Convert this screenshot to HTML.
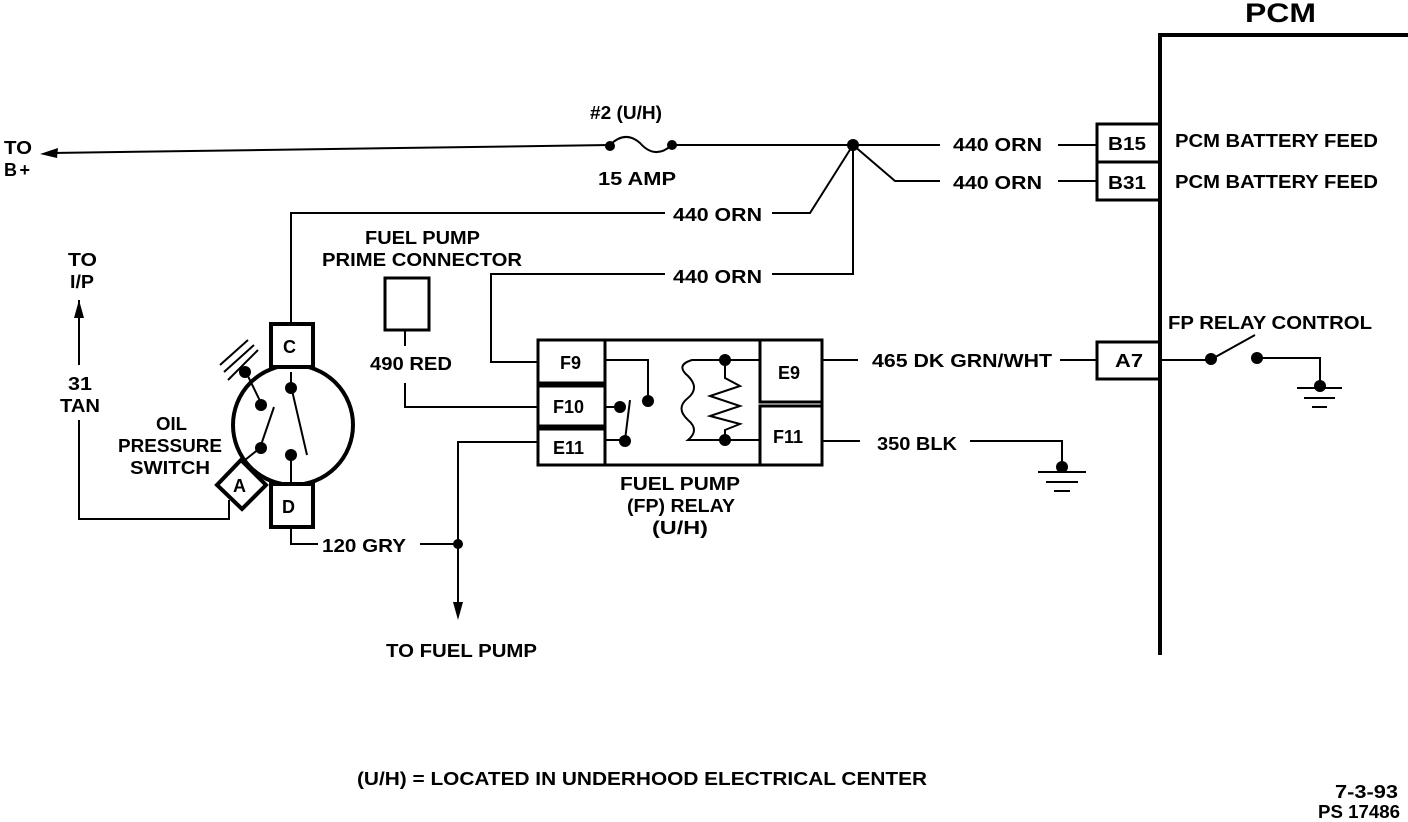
<!DOCTYPE html>
<html><head><meta charset="utf-8"><style>
html,body{margin:0;padding:0;background:#fff;}
svg{display:block}
text{font-family:"Liberation Sans",sans-serif;font-weight:bold;font-size:18px;fill:#000}
</style></head><body>
<svg width="1408" height="822" viewBox="0 0 1408 822" xmlns="http://www.w3.org/2000/svg">
<g stroke="#000" fill="none" stroke-width="2">
<path d="M1160 655 V35 H1408" stroke-width="4"/>
<path d="M52 153 L610 145"/>
<path d="M610 145 Q625 130 640 143 Q655 160 672 145"/>
<path d="M672 145 H940"/>
<path d="M1058 145 H1097"/>
<path d="M853 145 L895 181 H940"/>
<path d="M1058 181 H1097"/>
<rect x="1097" y="124" width="63" height="38" stroke-width="3"/>
<rect x="1097" y="162" width="63" height="38" stroke-width="3"/>
<path d="M291 323 V213 H665"/>
<path d="M772 213 H810 L853 145"/>
<path d="M853 145 V274 H772"/>
<path d="M665 274 H491 V362 H538"/>
<rect x="385" y="278" width="44" height="52" stroke-width="3"/>
<path d="M405 330 V346"/>
<path d="M405 383 V407 H538"/>
<path d="M538 442 H458 V612"/>
<path d="M420 544 H458"/>
<path d="M291 527 V544 H318"/>
<rect x="538" y="340" width="284" height="125" stroke-width="3"/>
<rect x="538" y="340" width="67" height="43" stroke-width="3"/>
<rect x="538" y="386" width="67" height="40" stroke-width="3"/>
<rect x="538" y="429" width="67" height="36" stroke-width="3"/>
<rect x="760" y="340" width="62" height="62" stroke-width="3"/>
<rect x="760" y="406" width="62" height="59" stroke-width="3"/>
<path d="M605 360 H648 V400"/>
<path d="M605 407 H618 M605 440 H625 L630 400"/>
<path d="M760 360 H692 Q675 365 688 376 Q700 388 688 398 Q675 408 688 420 Q700 430 688 440 H760"/>
<path d="M725 360 V378 L740 386 L710 396 L740 406 L710 416 L740 424 L725 430 V440"/>
<path d="M822 360 H858"/>
<path d="M1060 360 H1097"/>
<rect x="1097" y="342" width="63" height="37" stroke-width="3"/>
<path d="M1160 360 H1210 L1255 335"/>
<path d="M1257 358 H1320 V384"/>
<path d="M1297 388 H1342 M1304 398 H1335 M1312 407 H1327"/>
<path d="M822 441 H860"/>
<path d="M970 441 H1062 V466"/>
<path d="M1038 472 H1086 M1046 482 H1078 M1054 491 H1070"/>
<circle cx="293" cy="425" r="60" stroke-width="4"/>
<rect x="271" y="324" width="42" height="43" stroke-width="4" fill="#fff"/>
<rect x="271" y="484" width="42" height="43" stroke-width="4" fill="#fff"/>
<path d="M241 460 L266 485 L242 509 L217 485 Z" stroke-width="4" fill="#fff"/>
<path d="M245 370 L262 405 M260 448 L274 407 M291 386 L307 455 M291 372 V386 M291 452 V484 M260 448 L245 460"/>
<path d="M220 365 L248 340 M224 372 L254 345 M228 380 L258 350"/>
<path d="M79 300 V365 M79 420 V519 H229 V500"/>
</g>
<g fill="#000">
<path d="M40 154 L58 148 L57 158 Z"/>
<path d="M79 300 L74 318 L84 318 Z"/>
<path d="M458 620 L453 602 L463 602 Z"/>
<circle cx="610" cy="146" r="5"/><circle cx="672" cy="145" r="5"/>
<circle cx="853" cy="145" r="6"/><circle cx="458" cy="544" r="5"/>
<circle cx="648" cy="401" r="6"/><circle cx="620" cy="407" r="6"/><circle cx="625" cy="441" r="6"/>
<circle cx="725" cy="360" r="6"/><circle cx="725" cy="440" r="6"/>
<circle cx="1211" cy="359" r="6"/><circle cx="1257" cy="358" r="6"/><circle cx="1320" cy="386" r="6"/>
<circle cx="1062" cy="467" r="6"/>
<circle cx="245" cy="372" r="6"/><circle cx="261" cy="405" r="6"/><circle cx="261" cy="448" r="6"/>
<circle cx="291" cy="388" r="6"/><circle cx="291" cy="455" r="6"/>
</g>
<text x="1245" y="22" style="font-size:27px" textLength="71" lengthAdjust="spacingAndGlyphs">PCM</text>
<text x="4" y="154" textLength="28" lengthAdjust="spacingAndGlyphs">TO</text><text x="4" y="176" textLength="26">B +</text>
<text x="590" y="119" textLength="72" lengthAdjust="spacingAndGlyphs">#2 (U/H)</text>
<text x="598" y="185" textLength="78" lengthAdjust="spacingAndGlyphs">15 AMP</text>
<text x="953" y="151" textLength="89" lengthAdjust="spacingAndGlyphs">440 ORN</text>
<text x="953" y="189" textLength="89" lengthAdjust="spacingAndGlyphs">440 ORN</text>
<text x="1108" y="150" textLength="38" lengthAdjust="spacingAndGlyphs">B15</text><text x="1108" y="189" textLength="38" lengthAdjust="spacingAndGlyphs">B31</text>
<text x="1175" y="147" textLength="203" lengthAdjust="spacingAndGlyphs">PCM BATTERY FEED</text>
<text x="1175" y="188" textLength="203" lengthAdjust="spacingAndGlyphs">PCM BATTERY FEED</text>
<text x="673" y="221" textLength="89" lengthAdjust="spacingAndGlyphs">440 ORN</text>
<text x="673" y="283" textLength="89" lengthAdjust="spacingAndGlyphs">440 ORN</text>
<text x="365" y="244" textLength="115" lengthAdjust="spacingAndGlyphs">FUEL PUMP</text>
<text x="322" y="266" textLength="200" lengthAdjust="spacingAndGlyphs">PRIME CONNECTOR</text>
<text x="68" y="266" textLength="29" lengthAdjust="spacingAndGlyphs">TO</text><text x="70" y="288" textLength="24" lengthAdjust="spacingAndGlyphs">I/P</text>
<text x="68" y="390" textLength="24" lengthAdjust="spacingAndGlyphs">31</text><text x="60" y="412" textLength="40" lengthAdjust="spacingAndGlyphs">TAN</text>
<text x="156" y="430" textLength="31" lengthAdjust="spacingAndGlyphs">OIL</text><text x="118" y="452" textLength="104" lengthAdjust="spacingAndGlyphs">PRESSURE</text><text x="130" y="474" textLength="80" lengthAdjust="spacingAndGlyphs">SWITCH</text>
<text x="283" y="353">C</text><text x="282" y="513">D</text><text x="233" y="492">A</text>
<text x="370" y="370" textLength="82" lengthAdjust="spacingAndGlyphs">490 RED</text>
<text x="560" y="369">F9</text><text x="553" y="413">F10</text><text x="553" y="454">E11</text>
<text x="778" y="379">E9</text><text x="773" y="443">F11</text>
<text x="872" y="367" textLength="180" lengthAdjust="spacingAndGlyphs">465 DK GRN/WHT</text>
<text x="1115" y="367" textLength="28" lengthAdjust="spacingAndGlyphs">A7</text>
<text x="1168" y="329" textLength="204" lengthAdjust="spacingAndGlyphs">FP RELAY CONTROL</text>
<text x="877" y="450" textLength="80" lengthAdjust="spacingAndGlyphs">350 BLK</text>
<text x="620" y="490" textLength="120" lengthAdjust="spacingAndGlyphs">FUEL PUMP</text><text x="627" y="512" textLength="108" lengthAdjust="spacingAndGlyphs">(FP) RELAY</text><text x="652" y="534" textLength="56" lengthAdjust="spacingAndGlyphs">(U/H)</text>
<text x="322" y="552" textLength="84" lengthAdjust="spacingAndGlyphs">120 GRY</text>
<text x="386" y="657" textLength="151" lengthAdjust="spacingAndGlyphs">TO FUEL PUMP</text>
<text x="357" y="785" textLength="570" lengthAdjust="spacingAndGlyphs">(U/H) = LOCATED IN UNDERHOOD ELECTRICAL CENTER</text>
<text x="1335" y="798" textLength="63" lengthAdjust="spacingAndGlyphs">7-3-93</text>
<text x="1318" y="818" textLength="82" lengthAdjust="spacingAndGlyphs">PS 17486</text>
</svg>
</body></html>
